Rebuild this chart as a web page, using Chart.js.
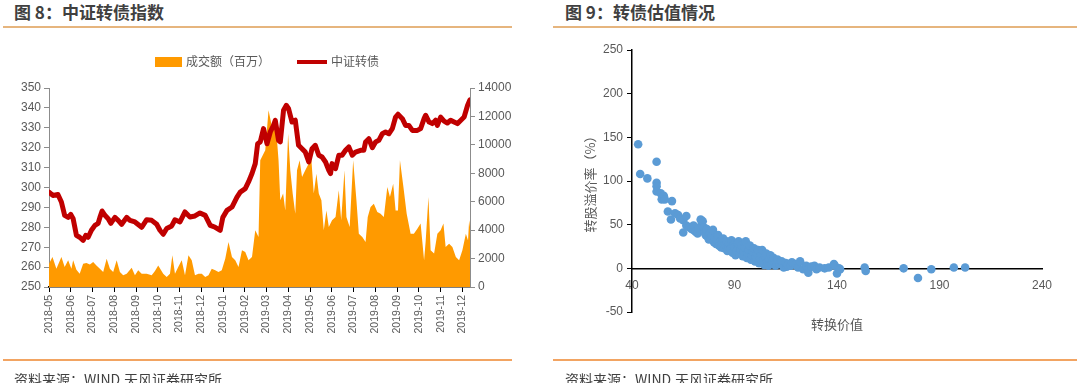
<!DOCTYPE html>
<html lang="zh-CN">
<head>
<meta charset="utf-8">
<title>中证转债指数 / 转债估值情况</title>
<script src="https://cdn.jsdelivr.net/npm/chart.js@4.4.1/dist/chart.umd.min.js"></script>
<style>
  html, body { margin: 0; padding: 0; background: #fff; }
  body { width: 1080px; height: 383px; position: relative; overflow: hidden;
         font-family: "Noto Sans CJK SC", "Liberation Sans", sans-serif; color: #333; }
  .panel { position: absolute; top: 0; width: 540px; height: 383px; }
  .panel canvas { position: absolute; left: 0; top: 0; }
  .title { position: absolute; top: 0px; font-size: 17px; font-weight: bold; color: #404040; line-height: 24px; white-space: nowrap; }
  .rule-top { position: absolute; top: 26px; height: 2px; background: #e6b57e; }
  .rule-bottom { position: absolute; top: 359px; height: 2px; background: #f2a462; }
  .source { position: absolute; top: 370px; font-size: 14px; color: #404040; line-height: 18px; white-space: nowrap; }
  .swatch { position: absolute; }
  .legend-text { position: absolute; top: 53px; font-size: 12px; color: #595959; line-height: 16px; white-space: nowrap; }
</style>
</head>
<body>

<div class="panel" style="left:0">
  <div class="title" style="left:14px">图 8：中证转债指数</div>
  <div class="rule-top" style="left:3px;width:509px"></div>
  <canvas id="indexChart" width="540" height="383"></canvas>
  <div class="swatch" style="left:155px;top:57px;width:27px;height:10px;background:#ff9a00"></div>
  <div class="legend-text" style="left:186px">成交额（百万）</div>
  <div class="swatch" style="left:297px;top:60px;width:30px;height:4px;background:#c00000"></div>
  <div class="legend-text" style="left:331px">中证转债</div>
  <div class="rule-bottom" style="left:3px;width:509px"></div>
  <div class="source" style="left:14px">资料来源：WIND,天风证券研究所</div>
</div>

<div class="panel" style="left:540px">
  <div class="title" style="left:25px">图 9：转债估值情况</div>
  <div class="rule-top" style="left:13px;width:524px"></div>
  <canvas id="valuationChart" width="540" height="383"></canvas>
  <div class="rule-bottom" style="left:13px;width:524px"></div>
  <div class="source" style="left:25px">资料来源：WIND,天风证券研究所</div>
</div>

<script>
// month tick labels (x = 0 is the start of 2018-05)
const months = ['2018-05','2018-06','2018-07','2018-08','2018-09','2018-10','2018-11','2018-12',
  '2019-01','2019-02','2019-03','2019-04','2019-05','2019-06','2019-07','2019-08','2019-09',
  '2019-10','2019-11','2019-12'];

// 中证转债 index (position in months, value)
const indexMonth = [0,0.18,0.41,0.57,0.72,0.88,1.0,1.11,1.26,1.41,
  1.57,1.69,1.80,1.95,2.11,2.26,2.34,2.44,2.57,2.72,
  2.84,3.03,3.18,3.34,3.57,3.72,3.95,4.26,4.49,4.72,
  4.95,5.10,5.25,5.41,5.64,5.79,6.02,6.25,6.48,6.71,
  6.94,7.18,7.41,7.64,7.87,7.99,8.18,8.41,8.64,8.79,
  9.02,9.17,9.33,9.48,9.59,9.71,9.86,10.02,10.17,10.32,
  10.40,10.55,10.63,10.78,10.91,11.01,11.17,11.32,11.47,11.63,
  11.78,11.94,12.09,12.24,12.40,12.55,12.71,12.86,12.94,13.01,
  13.17,13.32,13.47,13.63,13.78,13.94,14.09,14.32,14.47,14.55,
  14.70,14.86,15.01,15.16,15.32,15.47,15.62,15.78,15.93,16.04,
  16.24,16.39,16.54,16.70,16.93,17.08,17.24,17.31,17.47,17.62,
  17.77,17.85,18.00,18.16,18.31,18.46,18.62,18.77,18.93,19.08,
  19.24,19.35];
const indexValue = [297.7,296,296.5,292.7,286,285,286.5,284.3,276,275,
  273.4,276,275,278.5,281,282,285,288.2,286,284.3,
  282,285,283.5,281.5,285,283.5,282.7,280,283.8,283.5,
  281.5,278.5,276.5,279.4,280.7,283.8,282.7,287.7,285.2,285.7,
  287.2,286,281,280,278.5,285,288.5,290.2,295.2,297.7,
  299.4,302.8,307,312,322,322.9,329.6,322,327.9,331.2,
  333.7,323.7,322.9,338.8,341.3,339.6,332.9,333.8,321.2,319.5,
  317.8,312.8,319.5,321.2,316.2,315.3,312.8,308.6,307,312,
  309.5,316.2,316.2,318.7,320.4,316.2,317.8,318.7,318.7,322.9,
  324.5,320,322.9,323.7,327,327.9,327,329.6,335.4,336.8,
  334.6,331.2,331.2,328.7,328.7,329.6,334.6,336.3,332.9,332.1,
  333.8,331.2,335.4,333.4,332.4,333.8,332.9,332.1,333.8,335.4,
  341.3,344.1];

// 成交额（百万）
const turnoverMonth = [0,0.16,0.34,0.57,0.72,0.88,1.03,1.11,1.26,1.41,
  1.57,1.72,1.88,2.03,2.18,2.34,2.49,2.65,2.80,2.95,
  3.11,3.26,3.41,3.57,3.80,3.95,4.10,4.26,4.49,4.72,
  4.87,5.02,5.25,5.41,5.56,5.67,5.79,5.94,6.10,6.25,
  6.41,6.56,6.71,6.87,7.02,7.18,7.33,7.48,7.64,7.79,
  7.94,8.10,8.25,8.41,8.56,8.71,8.87,9.02,9.17,9.33,
  9.48,9.63,9.71,9.94,10.09,10.25,10.40,10.55,10.63,10.76,
  10.86,10.99,11.09,11.20,11.32,11.40,11.52,11.63,11.78,11.94,
  12.05,12.17,12.29,12.40,12.52,12.63,12.75,12.86,13.01,13.17,
  13.32,13.43,13.58,13.67,13.82,13.98,14.13,14.24,14.40,14.55,
  14.65,14.78,14.93,15.09,15.24,15.39,15.55,15.67,15.82,15.93,
  16.04,16.13,16.29,16.44,16.62,16.77,16.93,17.08,17.24,17.31,
  17.44,17.54,17.70,17.85,18.00,18.13,18.23,18.39,18.54,18.70,
  18.85,19.00,19.16,19.26,19.31,19.35];
const turnover = [1640,2110,1290,2110,1400,1880,1290,1880,1220,940,
  1640,1690,1590,1760,1520,1290,1060,1990,1290,1060,
  1880,1060,820,940,1360,820,1170,940,940,820,
  1130,1520,940,700,940,2230,940,1400,1880,820,
  2230,1880,820,940,940,700,820,1290,1170,1060,
  1170,1990,3170,2110,1880,1400,2580,2460,1880,2110,
  3990,3520,8910,9620,12430,11260,11960,8910,6100,6570,
  5390,10790,8210,6570,5160,8210,8910,7740,8210,8680,
  9150,6570,7970,6570,6100,3990,5390,4220,4690,4920,
  6800,4690,8210,4920,4220,8910,6100,3750,3520,3170,
  4920,5630,5860,5280,5160,4920,7040,6330,7270,5390,
  5390,8910,7040,5160,3750,3750,4100,4460,1880,3170,
  6330,2580,2350,3750,3990,4460,2810,3050,2810,2110,
  1880,2580,3750,3280,4690,4220];

// 转换价值 vs 转股溢价率（%）
const convValue = [43,44,47.5,52,52,52,52,54,54.5,55.5,
  56,59.5,57.5,59,61,62.5,63.5,65,66.5,65,
  66.5,68,69,70,70,71,72,72.5,73.5,74,
  74.5,75,75.5,76,76.5,77,77.5,78,78.5,79,
  79.5,80,80.5,81,81.5,82,82.5,83,83.5,84,
  84.5,85,85.5,86,86.5,87,87.5,88,88.5,89,
  89.5,90,90.5,91,91.5,92,92.5,93,93.5,94,
  94.5,95,95.5,96,96.5,97,97.5,98,98.5,99,
  99.5,100,100.5,101,101.5,102,102.5,103,103.5,104,
  104.5,105,105.5,106,106.5,107,107.5,108,108.5,109,
  110,110.5,111,112,113,114,115,115.5,116,117.5,
  118,120,121,122,123.5,125,126,126,127.5,129,
  130,131.5,134,136,138.5,139,140,141,141.5,153.5,
  154,172.5,179.5,186,197,202.5];
const premium = [142,108,103,122,98,94,88,86,79,83,
  79,77,65,56,63,61,57,55,60,41,
  49,47,45,44,49,42,40,46,56,51,
  54,47,41,38,45,36,33,40,34,37,
  44,30,35,28,33,38,26,31,24,30,
  34,23,27,31,20,25,29,22,32,18,
  27,24,15,20,29,31,17,22,26,14,
  19,24,31,12,17,21,26,10,15,19,
  23,8,13,17,21,6,11,15,21,9,
  4,13,17,7,3,11,15,5,9,12,
  3,7,10,5,8,1,6,2,4,3,
  7,5,1,8,-1,3,-1,-5,2,3,
  -1,1,0,1,5,3,-6,0,-1,1,
  -3,0,-11,-1,1,1];

Chart.defaults.font.family = "'Liberation Sans', 'Noto Sans CJK SC', sans-serif";
Chart.defaults.color = '#595959';

const labelFont = { size: 12 };

new Chart(document.getElementById('indexChart'), {
  type: 'line',
  data: {
    datasets: [
      {
        label: '中证转债',
        data: indexMonth.map((m, i) => ({ x: m, y: indexValue[i] })),
        yAxisID: 'yIndex',
        borderColor: '#c00000',
        borderWidth: 5,
        borderJoinStyle: 'round',
        borderCapStyle: 'round',
        pointRadius: 0,
        fill: false,
        tension: 0,
        order: 0
      },
      {
        label: '成交额（百万）',
        data: turnoverMonth.map((m, i) => ({ x: m, y: turnover[i] })),
        yAxisID: 'yVol',
        backgroundColor: '#ff9a00',
        borderColor: 'rgba(0,0,0,0)',
        borderWidth: 0,
        pointRadius: 0,
        fill: 'origin',
        tension: 0,
        order: 1
      }
    ]
  },
  options: {
    responsive: false,
    animation: false,
    layout: { padding: { top: 88, left: 0, right: 0, bottom: 0 } },
    plugins: { legend: { display: false }, tooltip: { enabled: false } },
    scales: {
      x: {
        type: 'linear',
        position: 'bottom',
        min: 0,
        max: 19.35,
        afterBuildTicks: s => { s.ticks = months.map((_, i) => ({ value: i })); },
        afterFit: s => { s.height = 96; },
        ticks: {
          autoSkip: false, maxRotation: 90, minRotation: 90, padding: 3,
          font: { size: 10.5 },
          callback: v => months[v]
        },
        grid: { display: true, drawOnChartArea: false, drawTicks: true, tickLength: 5, color: '#000' },
        border: { color: '#000', width: 1.5 }
      },
      yIndex: {
        position: 'left',
        min: 250,
        max: 350,
        afterFit: s => { s.width = 49; },
        ticks: { stepSize: 10, padding: 3, font: labelFont, callback: v => String(v) },
        grid: { display: true, drawOnChartArea: false, drawTicks: true, tickLength: 5, color: '#8c8c8c' },
        border: { color: '#8c8c8c', width: 1 }
      },
      yVol: {
        position: 'right',
        min: 0,
        max: 14000,
        afterFit: s => { s.width = 70; },
        ticks: { stepSize: 2000, padding: 3, font: labelFont, callback: v => String(v) },
        grid: { display: true, drawOnChartArea: false, drawTicks: true, tickLength: 5, color: '#8c8c8c' },
        border: { color: '#8c8c8c', width: 1 }
      }
    }
  }
});

new Chart(document.getElementById('valuationChart'), {
  type: 'scatter',
  data: {
    datasets: [{
      label: '转股溢价率',
      data: convValue.map((v, i) => ({ x: v, y: premium[i] })),
      backgroundColor: '#5b9bd5',
      borderWidth: 0,
      pointRadius: 4.3
    }]
  },
  options: {
    responsive: false,
    animation: false,
    layout: { padding: { top: 50, right: 38, bottom: 71, left: 0 } },
    plugins: { legend: { display: false }, tooltip: { enabled: false } },
    scales: {
      x: {
        type: 'linear',
        position: { y: 0 },
        min: 40,
        max: 240,
        ticks: { stepSize: 50, padding: 3, font: labelFont },
        grid: { display: false, drawTicks: true, tickLength: 7 },
        border: { display: true, color: '#000', width: 1.5 },
        title: {
          display: true, text: '转换价值', color: '#595959',
          font: { size: 13, family: "'Noto Sans CJK SC', sans-serif" },
          padding: { top: 21, bottom: 0 }
        }
      },
      y: {
        min: -50,
        max: 250,
        afterFit: s => { s.width = 92; },
        ticks: { stepSize: 50, padding: 4, font: labelFont },
        grid: { display: true, drawOnChartArea: false, drawTicks: true, tickLength: 5, color: '#000' },
        border: { color: '#000', width: 1.5 },
        title: {
          display: true, text: '转股溢价率（%）', color: '#595959',
          font: { size: 13, family: "'Noto Sans CJK SC', sans-serif" },
          padding: { top: 42, bottom: 0 }
        }
      }
    }
  }
});
</script>
</body>
</html>
